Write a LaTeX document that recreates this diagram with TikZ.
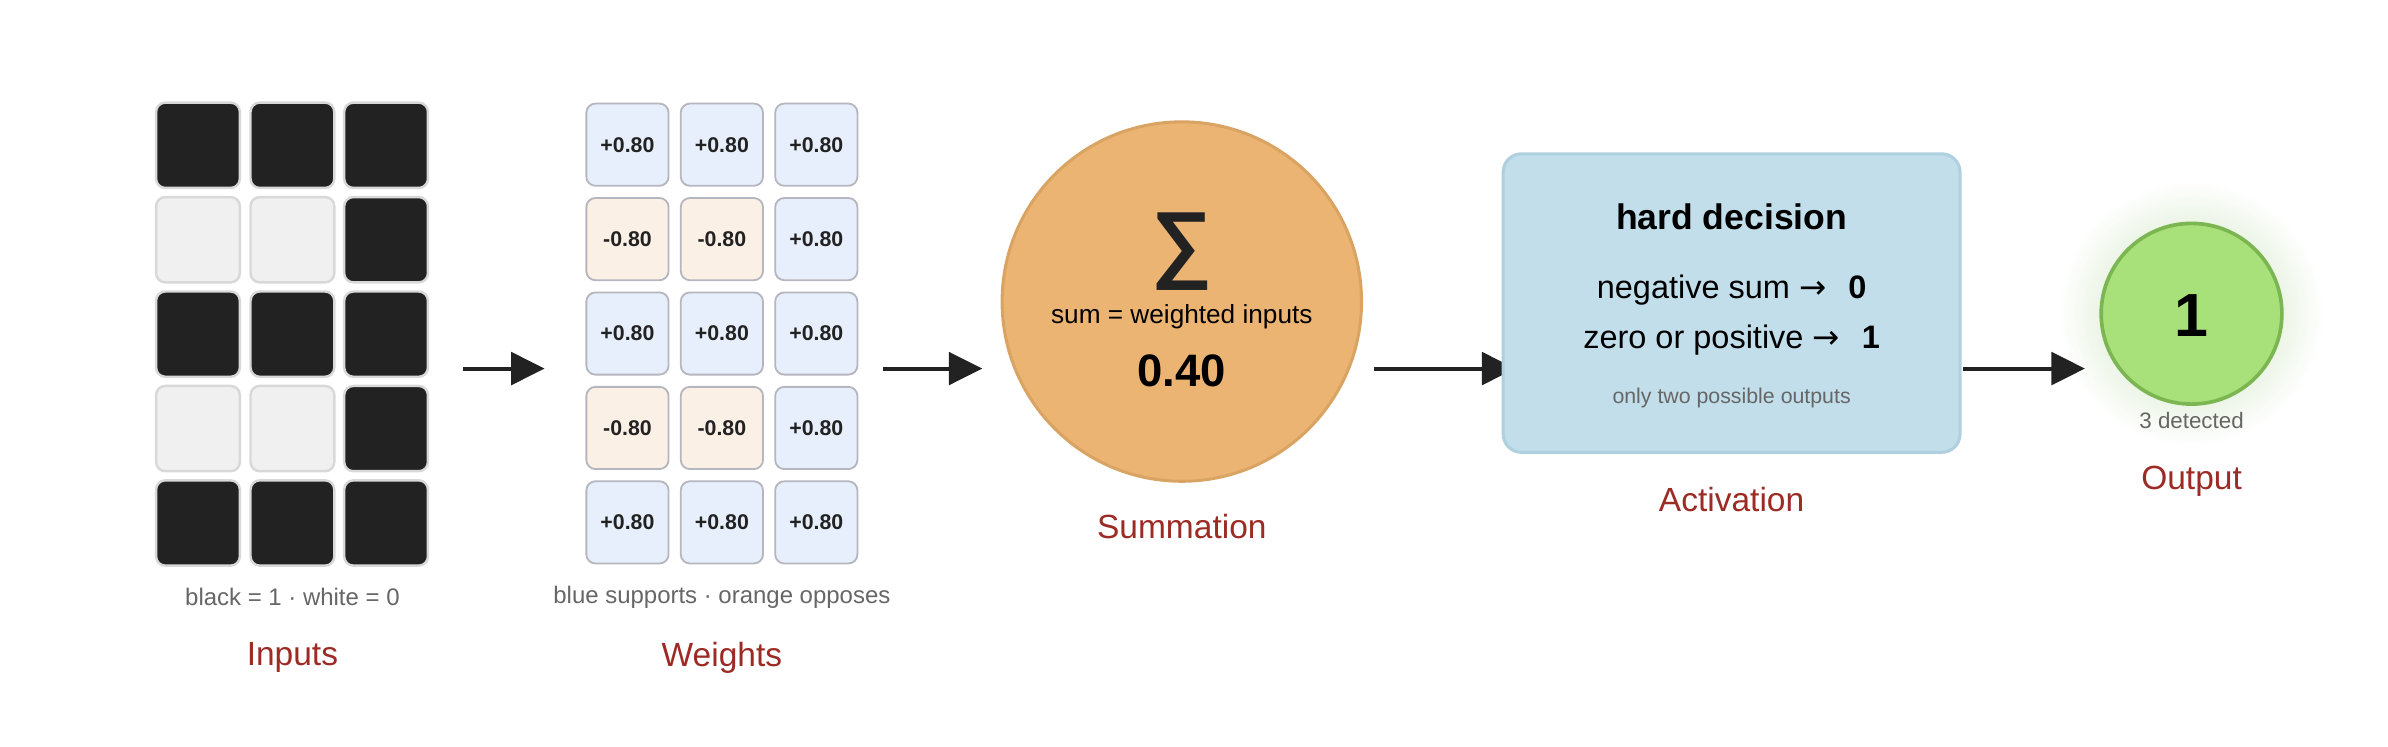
\documentclass[tikz,border=0pt]{standalone}
\usepackage{fontspec}
\setmainfont{Liberation Sans}
\newfontfamily\arrowfont{DejaVu Sans}
\usetikzlibrary{positioning,arrows.meta,fit,backgrounds}
\definecolor{ink}{HTML}{222222}
\definecolor{paper}{HTML}{F0F0F0}
\definecolor{cellrule}{HTML}{D8D8D8}
\definecolor{wblue}{HTML}{E8EFFC}
\definecolor{worange}{HTML}{FBF0E6}
\definecolor{wrule}{HTML}{B6B6BE}
\definecolor{sumfill}{HTML}{EBB473}
\definecolor{sumrule}{HTML}{D9A463}
\definecolor{actfill}{HTML}{C1DEEA}
\definecolor{actrule}{HTML}{AFD0DF}
\definecolor{outfill}{HTML}{A8E07A}
\definecolor{outrule}{HTML}{7BB653}
\definecolor{caption}{HTML}{666666}
\definecolor{stage}{HTML}{9B2B24}
\newcommand{\yields}{{\arrowfont →}}

\begin{document}
\begin{tikzpicture}[x=0.75pt,y=-0.75pt,
      pix/.style={rectangle,rounded corners=4.5pt,line width=1.2pt,draw=cellrule,
                  minimum width=41.25pt,minimum height=42pt,inner sep=0pt},
      pxon/.style={pix,fill=ink},
      pxoff/.style={pix,fill=paper},
      wt/.style={rectangle,rounded corners=4.5pt,line width=0.9pt,draw=wrule,minimum size=40.5pt,
                 inner sep=0pt,text=ink,font=\fontsize{10.5}{12}\selectfont\bfseries},
      wplus/.style={wt,fill=wblue},
      wminus/.style={wt,fill=worange},
      note/.style={text=caption,font=\fontsize{11.8}{14}\selectfont},
      stagename/.style={text=stage,font=\fontsize{16.5}{19}\selectfont},
      arr/.style={-{Triangle[length=16.5pt,width=16pt]},line width=2pt,draw=ink}]
    \useasboundingbox (0,0) rectangle (1568,490);
    \coordinate (axis) at (0,242);
    \foreach \r/\a/\b/\v in {1/pxon/wplus/+0.80,2/pxoff/wminus/-0.80,3/pxon/wplus/+0.80,4/pxoff/wminus/-0.80,5/pxon/wplus/+0.80}{
      \node[\a](in-\r-1) at (130,{33.4+62*\r}){};
      \node[\a](in-\r-2) at (192,{33.4+62*\r}){};
      \node[pxon](in-\r-3) at (253.5,{33.4+62*\r}){};
      \node[\b](w-\r-1) at (412,{33+62*\r}){\v};
      \node[\b](w-\r-2) at (474,{33+62*\r}){\v};
      \node[wplus](w-\r-3) at (536,{33+62*\r}){+0.80};
    }
    \node[fit=(in-1-1)(in-5-3),inner sep=0pt](inputs){};
    \node[fit=(w-1-1)(w-5-3),inner sep=0pt](weights){};
    \node[note](incap) at (192,392){black = 1 · white = 0};
    \node[note](wcap) at (474,392){blue supports · orange opposes};
    \node[stagename](inlabel) at (192,432){Inputs};
    \node[stagename](wlabel) at (474,432){Weights};

    \node[circle,fill=sumfill,draw=sumrule,line width=1.5pt,minimum size=177pt](sum) at (776,198){};
    \node[font=\fontsize{42}{44}\selectfont\bfseries,text=ink](sigma) at (776,165){∑};
    \node[font=\fontsize{12.9}{15}\selectfont](sumtext) at (776,208){sum = weighted inputs};
    \node[font=\fontsize{22.4}{24}\selectfont\bfseries](sumval) at (776,243.5){0.40};
    \node[stagename](sumlabel) at (776,346){Summation};

    \node[rectangle,rounded corners=9pt,fill=actfill,draw=actrule,line width=1.5pt,
          minimum width=225pt,minimum height=147pt](act) at (1137,199){};
    \node[font=\fontsize{17.5}{20}\selectfont\bfseries](rule) at (1137,142.5){hard decision};
    \node[font=\fontsize{16}{18}\selectfont](negline) at (1137,190.5){negative sum \yields\ \hspace{0.4em}\textbf{0}};
    \node[font=\fontsize{16}{18}\selectfont](posline) at (1137,223.5){zero or positive \yields\ \hspace{0.4em}\textbf{1}};
    \node[note,font=\fontsize{10.5}{12}\selectfont](only) at (1137,261.5){only two possible outputs};
    \node[stagename](actlabel) at (1137,328){Activation};

    \coordinate (outc) at (1439,206);
    \foreach \k in {1,...,12}
      \fill[outrule,opacity=0.01] (outc) circle[radius={0.75pt*(59.5+2.2*\k)}];
    \node[circle,fill=outfill,draw=outrule,line width=1.8pt,minimum size=89pt](out) at (outc){};
    \node[font=\fontsize{30}{32}\selectfont\bfseries](bit) at (1439,207){1};
    \node[note,font=\fontsize{11}{13}\selectfont](count) at (1439,276){3 detected};
    \node[stagename](outlabel) at (1439,316){Output};

    \draw[arr,shorten <=16.5pt,shorten >=19.9pt](inputs.east|-axis)--(weights.west|-axis);
    \draw[arr,shorten <=12pt,shorten >=9pt](weights.east|-axis)--(sum.west|-axis);
    \begin{pgfonlayer}{background}
      \draw[arr,shorten <=5.25pt,shorten >=-6.75pt](sum.east|-axis)--(act.west|-axis);
    \end{pgfonlayer}
    \draw[arr,shorten <=0.75pt,shorten >=7.1pt](act.east|-axis)--(out.west|-axis);
  \end{tikzpicture}
\end{document}
